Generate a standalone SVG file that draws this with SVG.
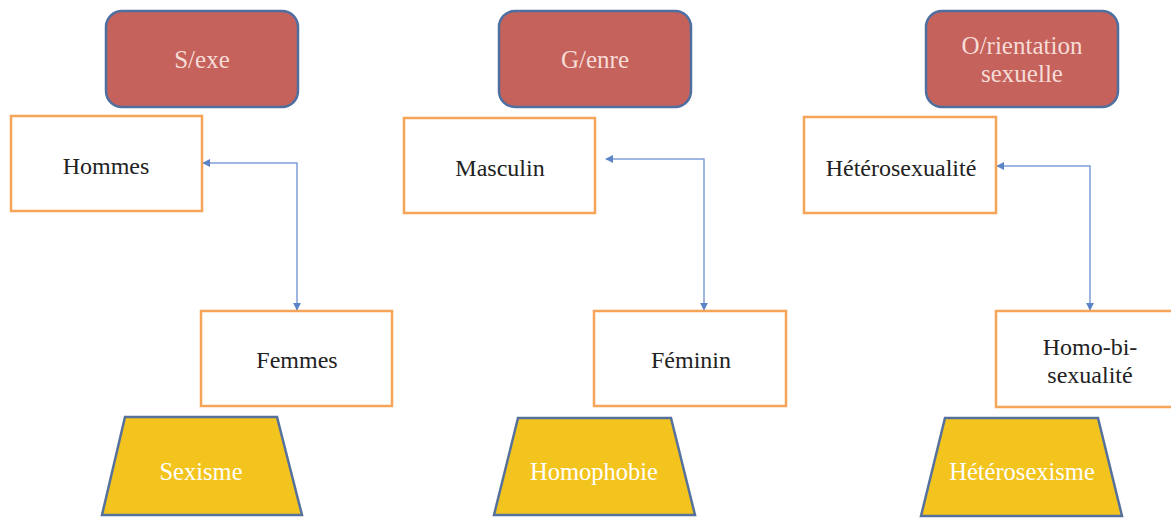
<svg xmlns="http://www.w3.org/2000/svg" width="1171" height="518" viewBox="0 0 1171 518">
<style>
.hdr{fill:#c4625b;stroke:#4e6fa0;stroke-width:2.5}
.box{fill:#ffffff;stroke:#f6a457;stroke-width:2.5}
.trap{fill:#f4c41e;stroke:#56729c;stroke-width:2.5}
.ht{font-family:"Liberation Serif",serif;font-size:25px;fill:#f7dcd8;text-anchor:middle}
.bt{font-family:"Liberation Serif",serif;font-size:24px;fill:#222222;text-anchor:middle}
.tt{font-family:"Liberation Serif",serif;font-size:24.5px;fill:#ffffff;text-anchor:middle}
.con{fill:none;stroke:#7f9fd6;stroke-width:1.5}
</style>
<defs>
<marker id="ah" viewBox="0 0 10 10" refX="9" refY="5" markerWidth="8" markerHeight="8" markerUnits="userSpaceOnUse" orient="auto-start-reverse">
<path d="M0,0 L10,5 L0,10 z" fill="#5b83c8"/>
</marker>
</defs>
<rect width="1171" height="518" fill="#ffffff"/>
<g id="connectors">
<path class="con" d="M203,163 H297 V310" marker-start="url(#ah)" marker-end="url(#ah)"/>
<path class="con" d="M606,159 H704 V310" marker-start="url(#ah)" marker-end="url(#ah)"/>
<path class="con" d="M997,166 H1090 V310" marker-start="url(#ah)" marker-end="url(#ah)"/>
</g>
<g id="sexe">
<rect class="hdr" x="106" y="11" width="192" height="96" rx="16"/>
<text class="ht" x="202" y="68">S/exe</text>
</g>
<g id="genre">
<rect class="hdr" x="499" y="11" width="192" height="96" rx="16"/>
<text class="ht" x="595" y="68">G/enre</text>
</g>
<g id="orientation">
<rect class="hdr" x="926" y="11" width="192" height="96" rx="16"/>
<text class="ht" x="1022" y="54">O/rientation</text>
<text class="ht" x="1022" y="82">sexuelle</text>
</g>
<g id="hommes">
<rect class="box" x="11" y="116" width="191" height="95"/>
<text class="bt" x="106" y="174">Hommes</text>
</g>
<g id="masculin">
<rect class="box" x="404" y="118" width="191" height="95"/>
<text class="bt" x="500" y="176">Masculin</text>
</g>
<g id="heterosexualite">
<rect class="box" x="804" y="117" width="192" height="96"/>
<text class="bt" x="901" y="176">Hétérosexualité</text>
</g>
<g id="femmes">
<rect class="box" x="201" y="311" width="191" height="95"/>
<text class="bt" x="297" y="368">Femmes</text>
</g>
<g id="feminin">
<rect class="box" x="594" y="311" width="192" height="95"/>
<text class="bt" x="691" y="368">Féminin</text>
</g>
<g id="homobi">
<rect class="box" x="996" y="311" width="190" height="96"/>
<text class="bt" x="1090" y="355">Homo-bi-</text>
<text class="bt" x="1090" y="383">sexualité</text>
</g>
<g id="sexisme">
<polygon class="trap" points="125,417 277,417 302,515 102,515"/>
<text class="tt" x="201" y="480">Sexisme</text>
</g>
<g id="homophobie">
<polygon class="trap" points="518,418 671,418 695,515 494,515"/>
<text class="tt" x="594" y="480">Homophobie</text>
</g>
<g id="heterosexisme">
<polygon class="trap" points="945,418 1098,418 1122,516 921,516"/>
<text class="tt" x="1022" y="480">Hétérosexisme</text>
</g>
</svg>
